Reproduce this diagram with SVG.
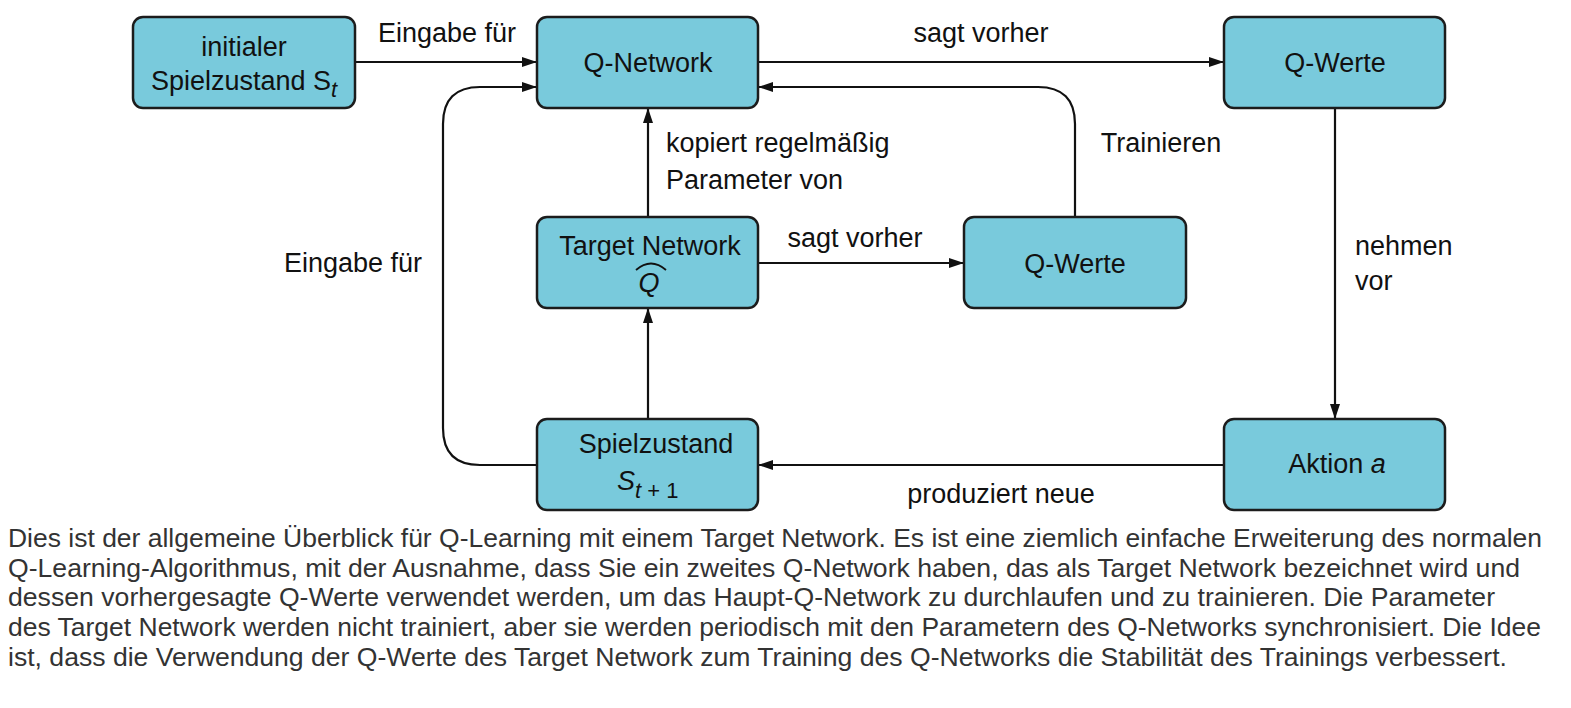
<svg xmlns="http://www.w3.org/2000/svg" width="1571" height="708" viewBox="0 0 1571 708">
<defs>
<style>
.box{fill:#79cadc;stroke:#1c1c1c;stroke-width:2.5}
.t{font-family:"Liberation Sans",Arial,sans-serif;font-size:27px;fill:#111}
.c{font-family:"Liberation Sans",Arial,sans-serif;font-size:25.5px;fill:#333}
.ln{fill:none;stroke:#111;stroke-width:2.2}
</style>
<marker id="ah" markerWidth="16" markerHeight="12" refX="14" refY="6" orient="auto" markerUnits="userSpaceOnUse">
<path d="M0,1 L15,6 L0,11 Z" fill="#111"/>
</marker>
</defs>
<rect width="1571" height="708" fill="#fff"/>
<g id="connectors">
<path class="ln" d="M355,62 H536" marker-end="url(#ah)"/>
<path class="ln" d="M537,465 H480 Q443,465 443,428 V124 Q443,87 480,87 H536" marker-end="url(#ah)"/>
<path class="ln" d="M758,62 H1223" marker-end="url(#ah)"/>
<path class="ln" d="M1335,108 V418" marker-end="url(#ah)"/>
<path class="ln" d="M1224,465 H759" marker-end="url(#ah)"/>
<path class="ln" d="M648,419 V309" marker-end="url(#ah)"/>
<path class="ln" d="M648,217 V109" marker-end="url(#ah)"/>
<path class="ln" d="M758,263 H963" marker-end="url(#ah)"/>
<path class="ln" d="M1075,217 V124 Q1075,87 1038,87 H759" marker-end="url(#ah)"/>
<text class="t" x="447" y="42" text-anchor="middle">Eingabe für</text>
<text class="t" x="981" y="42" text-anchor="middle">sagt vorher</text>
<text class="t" x="1161" y="152" text-anchor="middle">Trainieren</text>
<text class="t" x="666" y="152">kopiert regelmäßig</text>
<text class="t" x="666" y="189">Parameter von</text>
<text class="t" x="855" y="247" text-anchor="middle">sagt vorher</text>
<text class="t" x="353" y="272" text-anchor="middle">Eingabe für</text>
<text class="t" x="1355" y="255">nehmen</text>
<text class="t" x="1355" y="290">vor</text>
<text class="t" x="1001" y="503" text-anchor="middle">produziert neue</text>
</g>
<g id="n-initial">
<rect class="box" x="133" y="17" width="222" height="91" rx="10"/>
<text class="t" x="244" y="56" text-anchor="middle">initialer</text>
<text class="t" x="244" y="90" text-anchor="middle">Spielzustand S<tspan font-style="italic" font-size="22" dy="7">t</tspan></text>
</g>
<g id="n-qnetwork">
<rect class="box" x="537" y="17" width="221" height="91" rx="10"/>
<text class="t" x="648" y="72" text-anchor="middle">Q-Network</text>
</g>
<g id="n-qwerte-top">
<rect class="box" x="1224" y="17" width="221" height="91" rx="10"/>
<text class="t" x="1335" y="72" text-anchor="middle">Q-Werte</text>
</g>
<g id="n-target">
<rect class="box" x="537" y="217" width="221" height="91" rx="10"/>
<text class="t" x="650" y="255" text-anchor="middle">Target Network</text>
<text class="t" x="649" y="292" text-anchor="middle" font-style="italic">Q</text>
<path d="M636,270 Q651,257 666,270" fill="none" stroke="#111" stroke-width="1.8"/>
</g>
<g id="n-qwerte-mid">
<rect class="box" x="964" y="217" width="222" height="91" rx="10"/>
<text class="t" x="1075" y="273" text-anchor="middle">Q-Werte</text>
</g>
<g id="n-spielzustand">
<rect class="box" x="537" y="419" width="221" height="91" rx="10"/>
<text class="t" x="656" y="453" text-anchor="middle">Spielzustand</text>
<text class="t" x="617" y="490"><tspan font-style="italic">S</tspan><tspan font-size="22" dy="8"><tspan font-style="italic">t</tspan> + 1</tspan></text>
</g>
<g id="n-aktion">
<rect class="box" x="1224" y="419" width="221" height="91" rx="10"/>
<text class="t" x="1337" y="473" text-anchor="middle">Aktion <tspan font-style="italic">a</tspan></text>
</g>
<g id="caption">
<text class="c" x="8" y="547" textLength="1534" lengthAdjust="spacingAndGlyphs">Dies ist der allgemeine Überblick für Q-Learning mit einem Target Network. Es ist eine ziemlich einfache Erweiterung des normalen</text>
<text class="c" x="8" y="577" textLength="1512" lengthAdjust="spacingAndGlyphs">Q-Learning-Algorithmus, mit der Ausnahme, dass Sie ein zweites Q-Network haben, das als Target Network bezeichnet wird und</text>
<text class="c" x="8" y="606" textLength="1487" lengthAdjust="spacingAndGlyphs">dessen vorhergesagte Q-Werte verwendet werden, um das Haupt-Q-Network zu durchlaufen und zu trainieren. Die Parameter</text>
<text class="c" x="8" y="636" textLength="1533" lengthAdjust="spacingAndGlyphs">des Target Network werden nicht trainiert, aber sie werden periodisch mit den Parametern des Q-Networks synchronisiert. Die Idee</text>
<text class="c" x="8" y="666" textLength="1499" lengthAdjust="spacingAndGlyphs">ist, dass die Verwendung der Q-Werte des Target Network zum Training des Q-Networks die Stabilität des Trainings verbessert.</text>
</g>
</svg>
